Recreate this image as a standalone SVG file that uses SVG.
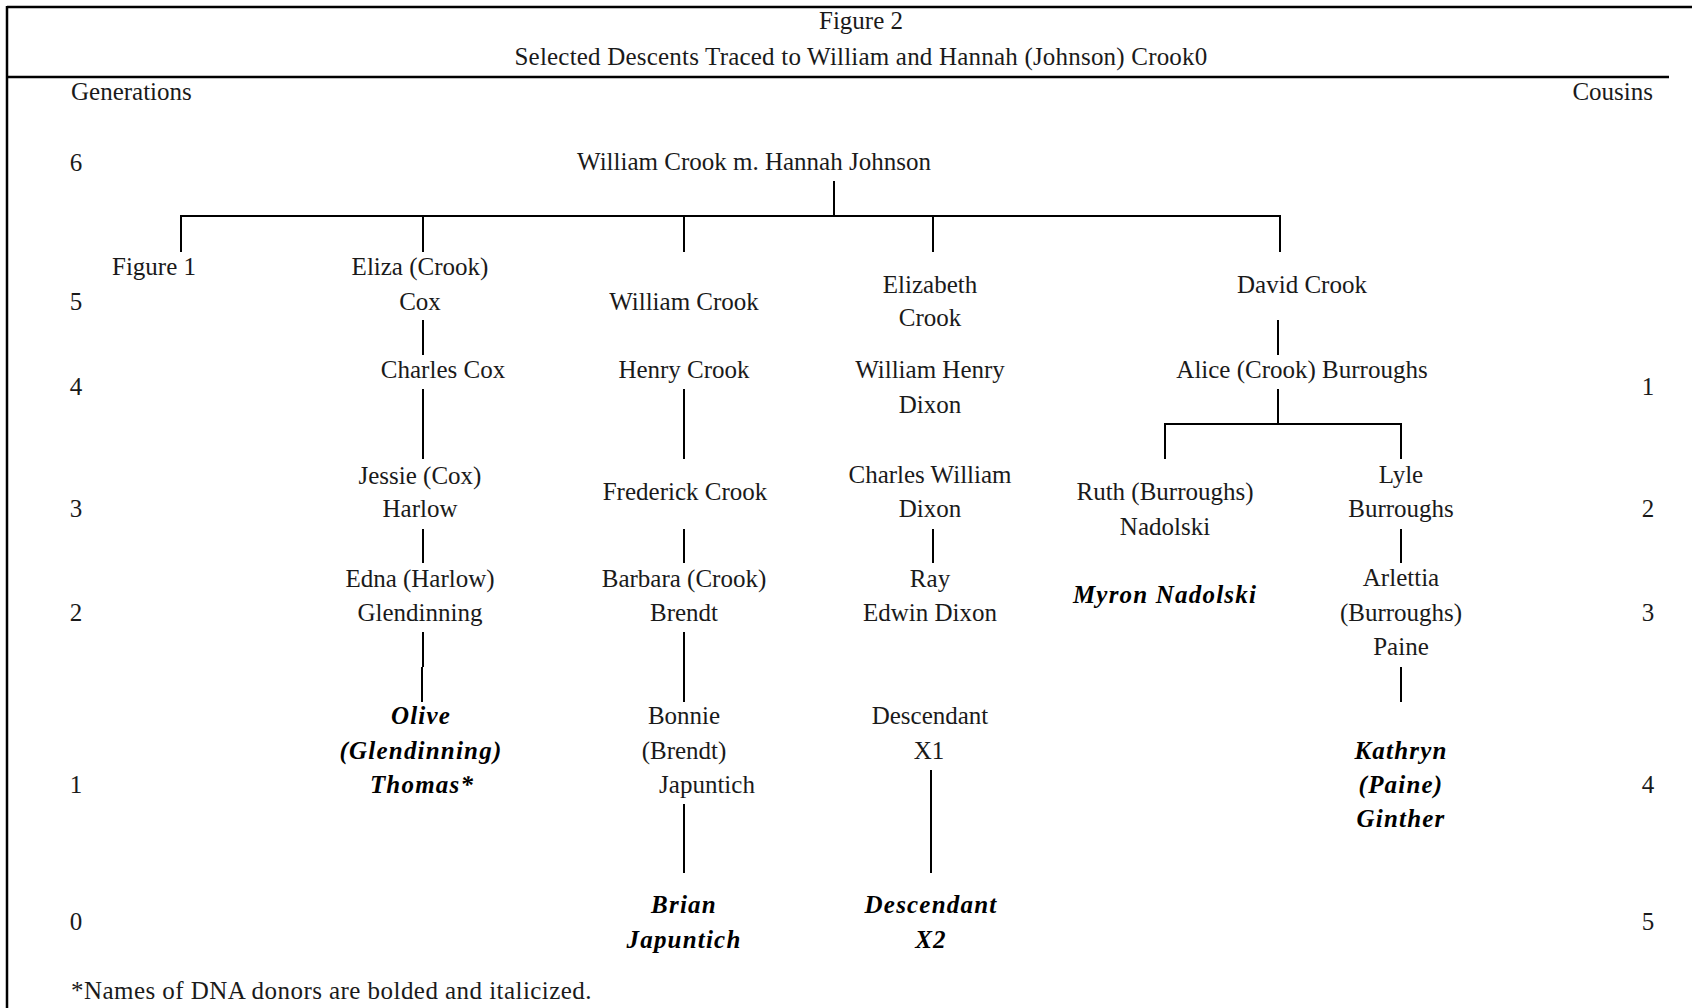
<svg xmlns="http://www.w3.org/2000/svg" width="1692" height="1008" viewBox="0 0 1692 1008">
<style>
  text { font-family: "Liberation Serif", "Times New Roman", serif; font-size: 25px; fill: #1a1a1a; text-anchor: middle; }
  .l { text-anchor: start; }
  .r { text-anchor: end; }
  .donor { font-weight: bold; font-style: italic; fill: #000; letter-spacing: 1.2px; }
  .frame { stroke: #000; stroke-width: 2.5; fill: none; }
  .conn line { stroke: #000; stroke-width: 2; }
</style>
<rect width="1692" height="1008" fill="#fff"/>
<g id="frame">
  <line class="frame" x1="7" y1="7" x2="1692" y2="7"/>
  <line class="frame" x1="7" y1="6" x2="7" y2="1008"/>
  <line class="frame" x1="7" y1="77" x2="1669" y2="77"/>
</g>
<g id="header">
  <text x="861" y="29">Figure 2</text>
  <text x="861" y="65" style="letter-spacing:0.2px">Selected Descents Traced to William and Hannah (Johnson) Crook0</text>
  <text class="l" x="71" y="100">Generations</text>
  <text class="r" x="1653" y="100">Cousins</text>
</g>
<g id="generations">
  <text x="76" y="171">6</text>
  <text x="76" y="310">5</text>
  <text x="76" y="395">4</text>
  <text x="76" y="517">3</text>
  <text x="76" y="621">2</text>
  <text x="76" y="793">1</text>
  <text x="76" y="930">0</text>
</g>
<g id="cousins">
  <text x="1648" y="395">1</text>
  <text x="1648" y="517">2</text>
  <text x="1648" y="621">3</text>
  <text x="1648" y="793">4</text>
  <text x="1648" y="930">5</text>
</g>
<g class="conn" id="connectors">
  <line x1="834" y1="181" x2="834" y2="216"/>
  <line x1="180" y1="216" x2="1281" y2="216"/>
  <line x1="181" y1="215" x2="181" y2="252"/>
  <line x1="423" y1="215" x2="423" y2="252"/>
  <line x1="684" y1="215" x2="684" y2="252"/>
  <line x1="933" y1="215" x2="933" y2="252"/>
  <line x1="1280" y1="215" x2="1280" y2="252"/>
  <line x1="423" y1="320" x2="423" y2="355"/>
  <line x1="423" y1="389" x2="423" y2="459"/>
  <line x1="423" y1="529" x2="423" y2="563"/>
  <line x1="423" y1="632" x2="423" y2="667"/>
  <line x1="422" y1="667" x2="422" y2="702"/>
  <line x1="684" y1="389" x2="684" y2="459"/>
  <line x1="684" y1="529" x2="684" y2="563"/>
  <line x1="684" y1="632" x2="684" y2="702"/>
  <line x1="684" y1="804" x2="684" y2="873"/>
  <line x1="933" y1="529" x2="933" y2="563"/>
  <line x1="931" y1="770" x2="931" y2="873"/>
  <line x1="1278" y1="320" x2="1278" y2="355"/>
  <line x1="1278" y1="389" x2="1278" y2="425"/>
  <line x1="1164" y1="424" x2="1402" y2="424"/>
  <line x1="1165" y1="423" x2="1165" y2="459"/>
  <line x1="1401" y1="423" x2="1401" y2="459"/>
  <line x1="1401" y1="529" x2="1401" y2="563"/>
  <line x1="1401" y1="667" x2="1401" y2="702"/>
</g>
<g id="n-william-hannah"><text x="754" y="170">William Crook m. Hannah Johnson</text></g>
<g id="n-figure1"><text x="154" y="275">Figure 1</text></g>
<g id="n-eliza"><text x="420" y="275">Eliza (Crook)</text><text x="420" y="310">Cox</text></g>
<g id="n-william"><text x="684" y="310">William Crook</text></g>
<g id="n-elizabeth"><text x="930" y="293">Elizabeth</text><text x="930" y="326">Crook</text></g>
<g id="n-david"><text x="1302" y="293">David Crook</text></g>
<g id="n-charles-cox"><text x="443" y="378">Charles Cox</text></g>
<g id="n-henry"><text x="684" y="378">Henry Crook</text></g>
<g id="n-william-henry"><text x="930" y="378">William Henry</text><text x="930" y="413">Dixon</text></g>
<g id="n-alice"><text x="1302" y="378">Alice (Crook) Burroughs</text></g>
<g id="n-jessie"><text x="420" y="484">Jessie (Cox)</text><text x="420" y="517">Harlow</text></g>
<g id="n-frederick"><text x="685" y="500">Frederick Crook</text></g>
<g id="n-charles-william"><text x="930" y="483">Charles William</text><text x="930" y="517">Dixon</text></g>
<g id="n-ruth"><text x="1165" y="500">Ruth (Burroughs)</text><text x="1165" y="535">Nadolski</text></g>
<g id="n-lyle"><text x="1401" y="483">Lyle</text><text x="1401" y="517">Burroughs</text></g>
<g id="n-edna"><text x="420" y="587">Edna (Harlow)</text><text x="420" y="621">Glendinning</text></g>
<g id="n-barbara"><text x="684" y="587">Barbara (Crook)</text><text x="684" y="621">Brendt</text></g>
<g id="n-ray"><text x="930" y="587">Ray</text><text x="930" y="621">Edwin Dixon</text></g>
<g id="n-myron"><text class="donor" x="1165" y="603">Myron Nadolski</text></g>
<g id="n-arlettia"><text x="1401" y="586">Arlettia</text><text x="1401" y="621">(Burroughs)</text><text x="1401" y="655">Paine</text></g>
<g id="n-olive"><text class="donor" x="421" y="724">Olive</text><text class="donor" x="421" y="759">(Glendinning)</text><text class="donor" x="422" y="793">Thomas*</text></g>
<g id="n-bonnie"><text x="684" y="724">Bonnie</text><text x="684" y="759">(Brendt)</text><text x="707" y="793">Japuntich</text></g>
<g id="n-descendant-x1"><text x="930" y="724">Descendant</text><text x="929" y="759">X1</text></g>
<g id="n-kathryn"><text class="donor" x="1401" y="759">Kathryn</text><text class="donor" x="1401" y="793">(Paine)</text><text class="donor" x="1401" y="827">Ginther</text></g>
<g id="n-brian"><text class="donor" x="684" y="913">Brian</text><text class="donor" x="684" y="948">Japuntich</text></g>
<g id="n-descendant-x2"><text class="donor" x="931" y="913">Descendant</text><text class="donor" x="931" y="948">X2</text></g>
<g id="footer"><text class="l" x="71" y="999" style="letter-spacing:0.45px">*Names of DNA donors are bolded and italicized.</text></g>
</svg>
